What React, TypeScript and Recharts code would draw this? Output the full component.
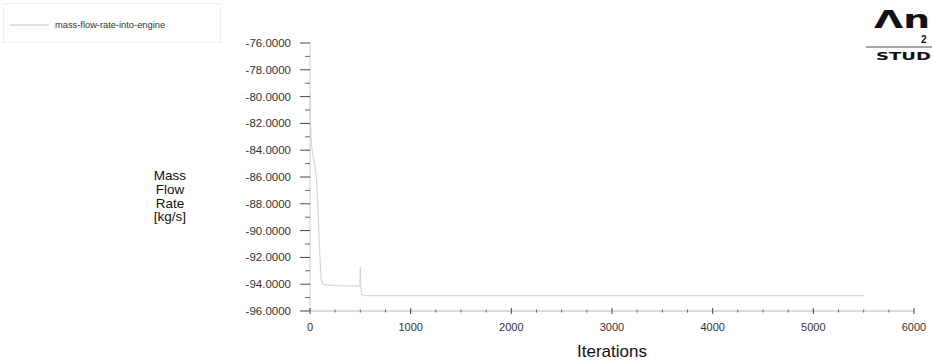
import React from "react";
import { LineChart, Line, XAxis, YAxis, Customized } from "recharts";

// Monitor history: mass flow rate into the engine per solver iteration
const iterations = [0, 3, 8, 15, 30, 50, 65, 80, 95, 110, 125, 150, 250, 400, 495, 500, 505, 515, 540, 1000, 2000, 3000, 4000, 5000, 5500];
const massFlow = [-79.8, -81.2, -82.6, -83.6, -84.4, -85.3, -86.2, -88.5, -91.5, -93.6, -93.95, -94.05, -94.1, -94.12, -94.15, -92.7, -94.3, -94.75, -94.85, -94.85, -94.85, -94.85, -94.85, -94.85, -94.85];

const xTicks = [0, 250, 500, 750, 1000, 1250, 1500, 1750, 2000, 2250, 2500, 2750, 3000, 3250, 3500, 3750, 4000, 4250, 4500, 4750, 5000, 5250, 5500, 5750, 6000];
const xMajor = [0, 1000, 2000, 3000, 4000, 5000, 6000];
const yTicks = [-96, -95, -94, -93, -92, -91, -90, -89, -88, -87, -86, -85, -84, -83, -82, -81, -80, -79, -78, -77, -76];
const yMajor = [-96, -94, -92, -90, -88, -86, -84, -82, -80, -78, -76];

const seriesName = "mass-flow-rate-into-engine";
const yLabelLines = ["Mass", "Flow", "Rate", "[kg/s]"];
const xLabel = "Iterations";

const data = iterations.map((it, i) => ({ it, v: massFlow[i] }));

const FONT = "'Liberation Sans', Arial, sans-serif";

const XTick = (props: any) => {
  const { x, y, payload } = props;
  const major = xMajor.includes(payload.value);
  return (
    <g>
      <line x1={x} x2={x} y1={major ? y - 3 : y - 1.5} y2={major ? y + 3 : y + 1.5} stroke={major ? "#444" : "#666"} strokeWidth={1} />
      {major && (
        <text x={x} y={y + 20} textAnchor="middle" fontSize={11} fill="#333" fontFamily={FONT}>
          {payload.value}
        </text>
      )}
    </g>
  );
};

const YTick = (props: any) => {
  const { x, y, payload } = props;
  const major = yMajor.includes(payload.value);
  return (
    <g>
      <line x1={major ? x - 10 : x - 5} x2={x} y1={y} y2={y} stroke={major ? "#444" : "#666"} strokeWidth={1} />
      {major && (
        <text x={x - 19} y={y + 4} textAnchor="end" fontSize={11.5} fill="#333" fontFamily={FONT}>
          {payload.value.toFixed(4)}
        </text>
      )}
    </g>
  );
};

const Decorations = () => (
  <g fontFamily={FONT}>
    {/* legend box */}
    <rect x={3.5} y={3.5} width={217} height={39} fill="#fff" stroke="#eeeeee" strokeWidth={1} />
    <line x1={10} x2={49} y1={25} y2={25} stroke="#c4c4c4" strokeWidth={1} />
    <text x={55} y={28} fontSize={9.3} fill="#333">{seriesName}</text>
    {/* y axis title */}
    {yLabelLines.map((t, i) => (
      <text key={t} x={170} y={180 + i * 13.8} textAnchor="middle" fontSize={13.5} fill="#111">
        {t}
      </text>
    ))}
    {/* x axis title */}
    <text x={612} y={357} textAnchor="middle" fontSize={17} fill="#111">{xLabel}</text>
    {/* product mark, running off the right edge */}
    <text x={874} y={28} fontSize={25} fontWeight="bold" fill="#111" fontFamily="'DejaVu Sans', sans-serif" textLength={56} lengthAdjust="spacingAndGlyphs">Λn</text>
    <text x={921} y={43} fontSize={10} fontWeight="bold" fill="#111">2</text>
    <line x1={866} x2={932} y1={47} y2={47} stroke="#888" strokeWidth={1.5} />
    <text x={876} y={60} fontSize={11} fontWeight="bold" fill="#111" fontFamily="'DejaVu Sans', sans-serif" textLength={55} lengthAdjust="spacingAndGlyphs">STUD</text>
  </g>
);

export default function App() {
  return (
    <div style={{ position: "absolute", left: 0, top: 0, width: 932, height: 364, background: "#fff" }}>
      <LineChart width={932} height={364} data={data} margin={{ top: 43, right: 18, bottom: 0, left: 0 }}>
        <Customized component={Decorations} />
        <XAxis
          dataKey="it"
          type="number"
          domain={[0, 6000]}
          ticks={xTicks}
          interval={0}
          height={53}
          tickSize={0}
          tickMargin={0}
          tick={<XTick />}
          axisLine={{ stroke: "#b8b8b8" }}
          tickLine={false}
        />
        <YAxis
          type="number"
          domain={[-96, -76]}
          ticks={yTicks}
          interval={0}
          width={310}
          tickSize={0}
          tickMargin={0}
          tick={<YTick />}
          axisLine={{ stroke: "#d0d0d0" }}
          tickLine={false}
          allowDataOverflow
        />
        <Line dataKey="v" type="linear" stroke="#d6d6d6" strokeWidth={1.2} dot={false} isAnimationActive={false} />
      </LineChart>
    </div>
  );
}
